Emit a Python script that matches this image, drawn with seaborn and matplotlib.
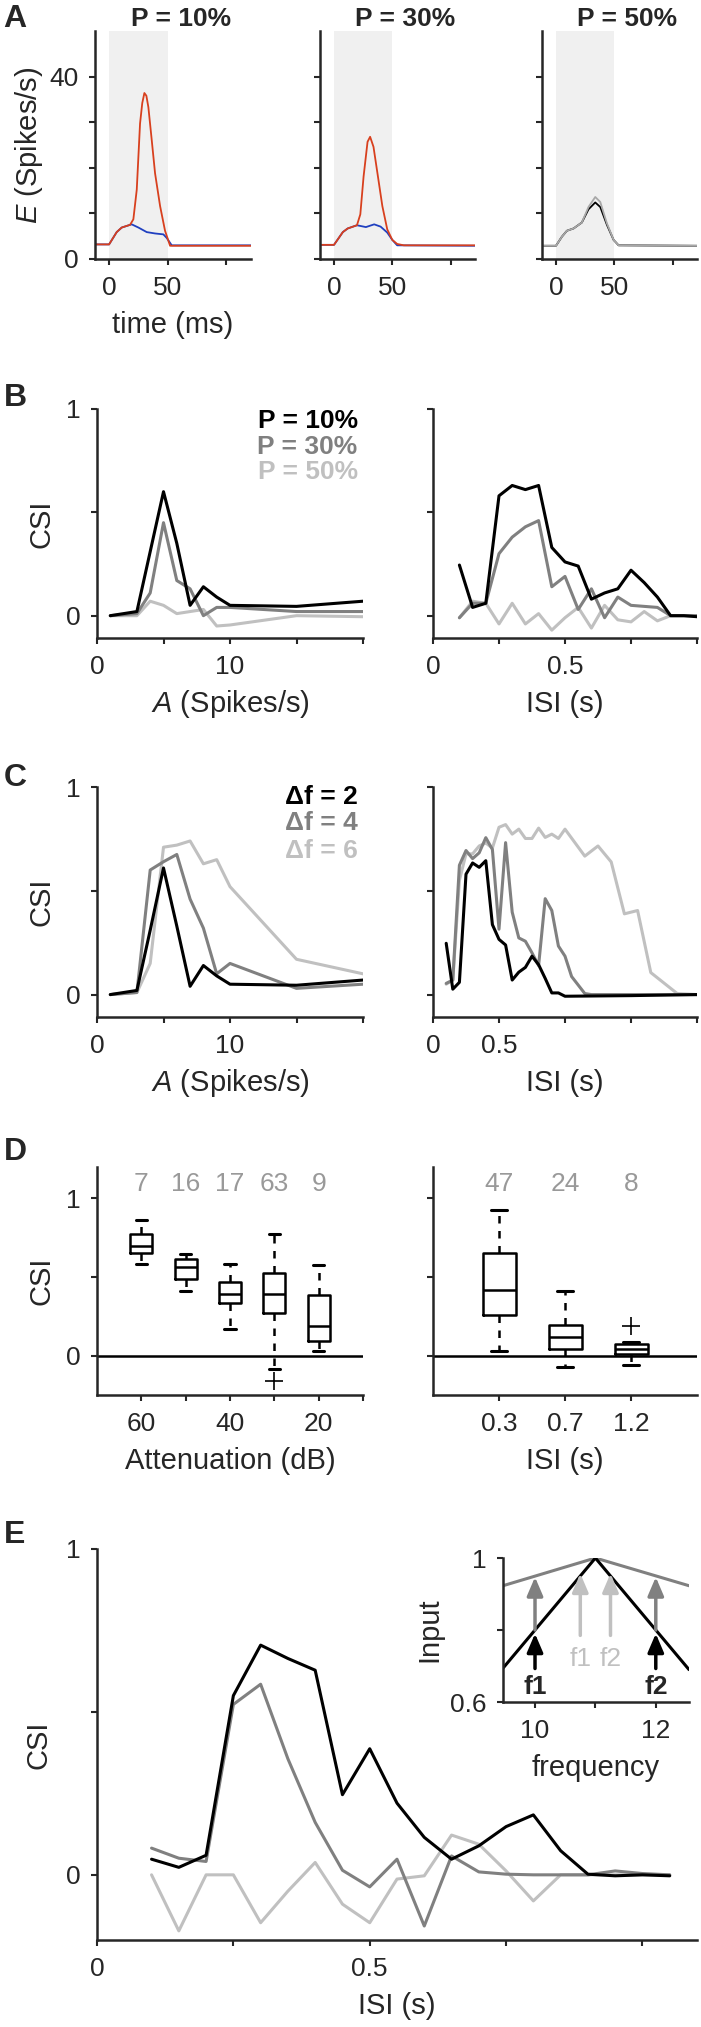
import matplotlib
matplotlib.use("Agg")
import matplotlib.pyplot as plt
import seaborn as sns

# ---------------- data ----------------
# A: firing rate traces (time in ms, rate in spikes/s)
a_t_red10 = [-12, 0, 6.5, 10.8, 17.9, 20.7, 23.6, 26.4, 28.3, 30.1, 31.8, 33.5, 36.4, 39.2, 43.5, 47.7, 52, 121]
a_red10 = [3.2, 3.2, 5.9, 6.9, 7.5, 8.7, 15.2, 29.7, 34.2, 36.4, 35.8, 33.3, 26.0, 18.8, 11.6, 6.2, 2.9, 2.9]
a_t_blue10 = [-12, 0, 6.5, 10.8, 19.3, 25, 32.1, 39.2, 46.3, 49.2, 53.4, 121]
a_blue10 = [3.2, 3.2, 5.9, 6.9, 7.6, 6.9, 5.9, 5.6, 5.4, 4.6, 3.0, 3.0]

a_t_red30 = [-12, 0, 7.6, 11.8, 19.7, 22.6, 25.4, 28.8, 31, 33.9, 37.3, 41.5, 45.7, 50, 54.2, 59.9, 121]
a_red30 = [3.1, 3.1, 5.9, 6.7, 7.4, 9.8, 18.1, 25.7, 26.8, 24.6, 18.8, 11.6, 6.5, 4.2, 3.3, 3.0, 3.0]
a_t_blue30 = [-12, 0, 7.6, 11.8, 19.7, 27.4, 34.5, 40, 45.7, 50, 54.2, 121]
a_blue30 = [3.1, 3.1, 5.9, 6.7, 7.4, 7.0, 7.6, 7.1, 5.8, 4.2, 3.0, 2.9]

a_t_50 = [-12, 0, 5.1, 9.4, 15.1, 22.2, 27.9, 33.7, 38, 43.7, 49.4, 53.7, 121]
a_gray50 = [2.9, 2.9, 4.9, 6.2, 6.7, 8.0, 11.4, 13.6, 12.5, 7.8, 4.2, 3.0, 2.9]
a_black50 = [2.9, 2.9, 4.9, 6.2, 6.7, 8.0, 10.9, 12.4, 11.4, 7.5, 4.2, 3.0, 2.9]

# B/C: CSI vs amplitude
amp = [1, 3, 4, 5, 6, 7, 8, 9, 10, 15, 20]
b_amp_p10 = [0, 0.02, 0.31, 0.60, 0.35, 0.05, 0.14, 0.09, 0.05, 0.045, 0.07]
b_amp_p30 = [0, 0.01, 0.11, 0.45, 0.17, 0.13, 0.0, 0.04, 0.04, 0.02, 0.02]
b_amp_p50 = [0, 0, 0.07, 0.05, 0.01, 0.02, 0.03, -0.05, -0.045, 0, -0.005]

# B: CSI vs ISI
isi_b = [0.1, 0.15, 0.2, 0.25, 0.3, 0.35, 0.4, 0.45, 0.5, 0.55, 0.6, 0.65, 0.7, 0.75, 0.8, 0.85, 0.9, 0.95, 1.0]
b_isi_p10 = [0.245, 0.04, 0.06, 0.58, 0.63, 0.61, 0.63, 0.33, 0.26, 0.24, 0.08, 0.11, 0.13, 0.22, 0.16, 0.09, 0.0, 0.0, -0.005]
b_isi_p30 = [-0.01, 0.06, 0.06, 0.30, 0.38, 0.43, 0.46, 0.14, 0.19, 0.03, 0.13, -0.01, 0.09, 0.05, 0.045, 0.04, 0.0, 0.0, 0.0]
b_isi_p50 = [-0.01, 0.07, 0.06, -0.04, 0.06, -0.04, 0.01, -0.07, -0.01, 0.04, -0.06, 0.05, -0.02, -0.03, 0.02, -0.025, 0.0, 0.0, 0.0]

c_amp_df2 = [0, 0.02, 0.31, 0.61, 0.33, 0.04, 0.14, 0.09, 0.05, 0.045, 0.07]
c_amp_df4 = [0, 0.01, 0.60, 0.64, 0.675, 0.46, 0.32, 0.10, 0.15, 0.03, 0.05]
c_amp_df6 = [0, 0.01, 0.15, 0.71, 0.72, 0.74, 0.63, 0.65, 0.52, 0.17, 0.10]

# C: CSI vs ISI
isi_c2 = [0.1, 0.15, 0.2, 0.25, 0.3, 0.35, 0.4, 0.45, 0.5, 0.55, 0.6, 0.65, 0.7, 0.75, 0.8, 0.85, 0.9, 0.95, 1.0, 1.5, 2.0]
c_isi_df2 = [0.247, 0.026, 0.059, 0.58, 0.634, 0.613, 0.645, 0.337, 0.266, 0.239, 0.07, 0.108, 0.131, 0.185, 0.144, 0.078, 0.008, 0.008, -0.008, -0.005, 0.0]
isi_c4 = [0.1, 0.15, 0.2, 0.25, 0.3, 0.35, 0.4, 0.45, 0.5, 0.55, 0.6, 0.65, 0.7, 0.75, 0.8, 0.85, 0.9, 0.95, 1.0, 1.05, 1.1, 1.15, 1.2, 2.0]
c_isi_df4 = [0.054, 0.07, 0.623, 0.694, 0.655, 0.683, 0.756, 0.699, 0.315, 0.732, 0.397, 0.273, 0.257, 0.201, 0.14, 0.462, 0.405, 0.234, 0.185, 0.087, 0.046, 0.005, 0.0, 0.0]
isi_c6 = [0.1, 0.15, 0.2, 0.25, 0.3, 0.35, 0.4, 0.45, 0.5, 0.55, 0.6, 0.65, 0.7, 0.75, 0.8, 0.85, 0.9, 0.95, 1.0, 1.15, 1.25, 1.35, 1.45, 1.55, 1.65, 1.85, 2.0]
c_isi_df6 = [0.05, 0.07, 0.55, 0.678, 0.678, 0.716, 0.73, 0.706, 0.806, 0.819, 0.773, 0.797, 0.752, 0.752, 0.802, 0.757, 0.773, 0.752, 0.797, 0.667, 0.716, 0.639, 0.389, 0.405, 0.106, 0.005, 0.0]

# D: box summaries (whislo, q1, med, q3, whishi, fliers)
d_att_labels = ["60", "", "40", "", "20"]
d_att_n = [7, 16, 17, 63, 9]
d_att_stats = [
    (0.585, 0.65, 0.70, 0.776, 0.863, []),
    (0.41, 0.49, 0.567, 0.612, 0.645, []),
    (0.17, 0.333, 0.39, 0.468, 0.585, []),
    (-0.087, 0.27, 0.395, 0.525, 0.776, [-0.16]),
    (0.027, 0.093, 0.19, 0.384, 0.574, []),
]
d_isi_labels = ["0.3", "0.7", "1.2"]
d_isi_n = [47, 24, 8]
d_isi_stats = [
    (0.027, 0.26, 0.42, 0.65, 0.926, []),
    (-0.072, 0.04, 0.118, 0.198, 0.41, []),
    (-0.06, 0.008, 0.04, 0.076, 0.089, [0.19]),
]

# E: CSI vs ISI
isi_e = [0.1, 0.15, 0.2, 0.25, 0.3, 0.35, 0.4, 0.45, 0.5, 0.55, 0.6, 0.65, 0.7, 0.75, 0.8, 0.85, 0.9, 0.95, 1.0, 1.05]
e_black = [0.048, 0.023, 0.06, 0.55, 0.705, 0.664, 0.628, 0.246, 0.387, 0.22, 0.115, 0.048, 0.089, 0.148, 0.184, 0.074, 0.002, -0.003, 0.0, -0.003]
e_gray = [0.082, 0.051, 0.041, 0.523, 0.585, 0.356, 0.161, 0.014, -0.037, 0.048, -0.157, 0.058, 0.009, 0.002, 0.0, 0.0, 0.0, 0.012, 0.004, 0.0]
e_light = [0.0, -0.172, 0.0, 0.0, -0.147, -0.05, 0.038, -0.09, -0.147, -0.013, -0.003, 0.122, 0.094, 0.012, -0.08, 0.0, 0.0, 0.0, 0.0, 0.0]

# E inset: input tuning
inset_f = [9.47, 11, 12.55]
inset_gray = [0.923, 1.0, 0.923]
inset_black = [0.694, 1.0, 0.69]
arrow_gray_f = [10, 12]
arrow_light_f = [10.75, 11.25]

# ---------------- style ----------------
BLACK, GRAY, LIGHT = "#000000", "#808080", "#c0c0c0"
RED, BLUE = "#d8401e", "#2040c0"
DARK = "#262626"
FS = 19        # tick labels
FL = 21        # axis labels
FB = 19        # bold titles / legends

sns.set_style("ticks")
plt.rcParams["font.family"] = ["Liberation Sans", "DejaVu Sans"]
plt.rcParams["mathtext.fontset"] = "custom"
plt.rcParams["mathtext.rm"] = "Liberation Sans"
plt.rcParams["mathtext.it"] = "Liberation Sans:italic"
plt.rcParams["axes.labelcolor"] = DARK

W, H = 701, 2027
fig = plt.figure(figsize=(W / 100, H / 100), dpi=100)


def make_ax(x0, y0, x1, y1):
    ax = fig.add_axes([x0 / W, 1 - y1 / H, (x1 - x0) / W, (y1 - y0) / H])
    ax.patch.set_alpha(0)
    for s in ["top", "right"]:
        ax.spines[s].set_visible(False)
    for s in ["left", "bottom"]:
        ax.spines[s].set_linewidth(1.8)
        ax.spines[s].set_color(DARK)
    ax.tick_params(direction="out", length=4, width=1.5, labelsize=FS,
                   colors=DARK, pad=8)
    ax._px_h = y1 - y0
    ax._px_w = x1 - x0
    return ax


def labels(ax, xlabel=None, ylabel=None, ylab_x=None):
    # centre of x label sits ~66 px under the spine, y label at given px
    if xlabel:
        ax.set_xlabel(xlabel, fontsize=FL, va="center")
        ax.xaxis.set_label_coords(0.5, -66 / ax._px_h)
    if ylabel:
        ax.set_ylabel(ylabel, fontsize=FL, va="center")
        ax.yaxis.set_label_coords(ylab_x / ax._px_w, 0.5)


def line(ax, x, y, c, lw=2.2):
    sns.lineplot(x=x, y=y, color=c, lw=lw, ax=ax, estimator=None, sort=False)


def letter(y, s):
    fig.text(15 / W, 1 - y / H, s, fontsize=23, fontweight="bold",
             ha="center", va="center")


# ---------------- A ----------------
a_axes = [make_ax(95, 31, 251, 259), make_ax(320, 31, 475, 259), make_ax(542, 31, 697, 259)]
for ax, title in zip(a_axes, ["P = 10%", "P = 30%", "P = 50%"]):
    ax.axvspan(0, 50, color="#f0f0f0", lw=0, zorder=0)
    ax.set_xlim(-12, 121)
    ax.set_ylim(0, 50)
    ax.set_xticks([0, 50, 100], ["0", "50", ""])
    ax.set_yticks([0, 10, 20, 30, 40])
    ax.set_yticklabels([])
    ax.set_title(title, fontsize=FB, fontweight="bold", x=0.55, pad=3.5)
a_axes[0].set_yticklabels(["0", "", "", "", "40"])
line(a_axes[0], a_t_blue10, a_blue10, BLUE, 1.3)
line(a_axes[0], a_t_red10, a_red10, RED, 1.3)
line(a_axes[1], a_t_blue30, a_blue30, BLUE, 1.3)
line(a_axes[1], a_t_red30, a_red30, RED, 1.3)
line(a_axes[2], a_t_50, a_black50, BLACK, 1.3)
line(a_axes[2], a_t_50, a_gray50, "#a8a8a8", 1.3)
labels(a_axes[0], "time (ms)", "$\\it{E}$ (Spikes/s)", 29 - 95)
letter(19, "A")


# ---------------- B / C ----------------
def csi_pair(y0, y1):
    left = make_ax(97, y0, 363, y1)
    right = make_ax(433, y0, 697, y1)
    for ax in (left, right):
        ax.set_ylim(-0.108, 1)
        ax.set_yticks([0, 0.5, 1])
        ax.set_yticklabels([])
    left.set_yticklabels(["0", "", "1"])
    left.set_xlim(0, 20)
    left.set_xticks([0, 5, 10, 15, 20], ["0", "", "10", "", ""])
    labels(left, "$\\it{A}$ (Spikes/s)", "CSI", 42 - 97)
    labels(right, "ISI (s)")
    return left, right


b1, b2 = csi_pair(409, 638)
line(b1, amp, b_amp_p50, LIGHT)
line(b1, amp, b_amp_p30, GRAY)
line(b1, amp, b_amp_p10, BLACK)
line(b2, isi_b, b_isi_p50, LIGHT)
line(b2, isi_b, b_isi_p30, GRAY)
line(b2, isi_b, b_isi_p10, BLACK)
b2.set_xlim(0, 1)
b2.set_xticks([0, 0.25, 0.5, 0.75, 1], ["0", "", "0.5", "", ""])
for txt, c, yy in [("P = 10%", BLACK, 0.948), ("P = 30%", GRAY, 0.834), ("P = 50%", LIGHT, 0.725)]:
    b1.text(0.98, yy, txt, color=c, transform=b1.transAxes, ha="right",
            va="center", fontsize=FB, fontweight="bold")
letter(398, "B")

c1, c2 = csi_pair(787, 1017)
line(c1, amp, c_amp_df6, LIGHT)
line(c1, amp, c_amp_df4, GRAY)
line(c1, amp, c_amp_df2, BLACK)
line(c2, isi_c6, c_isi_df6, LIGHT)
line(c2, isi_c4, c_isi_df4, GRAY)
line(c2, isi_c2, c_isi_df2, BLACK)
c2.set_xlim(0, 2)
c2.set_xticks([0, 0.5, 1, 1.5, 2], ["0", "0.5", "", "", ""])
for txt, c, yy in [("\u0394f = 2", BLACK, 0.957), ("\u0394f = 4", GRAY, 0.843), ("\u0394f = 6", LIGHT, 0.722)]:
    c1.text(0.98, yy, txt, color=c, transform=c1.transAxes, ha="right",
            va="center", fontsize=FB, fontweight="bold")
letter(778, "C")


# ---------------- D ----------------
def boxes(ax, stats, counts, ticklabels):
    pos = list(range(1, len(stats) + 1))
    bstats = [dict(whislo=s[0], q1=s[1], med=s[2], q3=s[3], whishi=s[4], fliers=s[5])
              for s in stats]
    ax.axhline(0, color="k", lw=1.8, zorder=1)
    ax.bxp(bstats, positions=pos, widths=0.5, capwidths=0.25,
           boxprops=dict(color="k", lw=1.8),
           whiskerprops=dict(color="k", lw=1.8, linestyle=(0, (3, 3))),
           capprops=dict(color="k", lw=2.2),
           medianprops=dict(color="k", lw=1.8),
           flierprops=dict(marker="+", markeredgecolor="k", markersize=13,
                           markeredgewidth=1.2))
    for p, n in zip(pos, counts):
        ax.text(p, 1.09, str(n), color="#999999", ha="center", va="center", fontsize=FS)
    ax.set_xlim(0, len(stats) + 1)
    ax.set_xticks(pos, ticklabels)
    ax.set_ylim(-0.25, 1.2)
    ax.set_yticks([0, 0.5, 1])
    ax.set_yticklabels([])


d1 = make_ax(97, 1167, 363, 1395)
d2 = make_ax(433, 1167, 697, 1395)
boxes(d1, d_att_stats, d_att_n, d_att_labels)
boxes(d2, d_isi_stats, d_isi_n, d_isi_labels)
d1.set_xticks([1, 2, 3, 4, 5, 6], d_att_labels + [""])
d1.set_yticklabels(["0", "", "1"])
labels(d1, "Attenuation (dB)", "CSI", 42 - 97)
labels(d2, "ISI (s)")
letter(1152, "D")

# ---------------- E ----------------
e = make_ax(97, 1549, 697, 1940)
line(e, isi_e, e_light, LIGHT)
line(e, isi_e, e_gray, GRAY)
line(e, isi_e, e_black, BLACK)
e.set_xlim(0, 1.1)
e.set_ylim(-0.2, 1)
e.set_xticks([0, 0.25, 0.5, 0.75, 1.0], ["0", "", "0.5", "", ""])
e.set_yticks([0, 0.5, 1], ["0", "", "1"])
labels(e, "ISI (s)", "CSI", 38 - 97)
letter(1535, "E")

ins = make_ax(503, 1558, 689, 1702)
ins.set_xlim(9.47, 12.55)
ins.set_ylim(0.6, 1)
ins.set_xticks([10, 11, 12], ["10", "", "12"])
ins.set_yticks([0.6, 0.8, 1.0], ["0.6", "", "1"])
labels(ins, "frequency", "Input", 429 - 503)


def arrow(ax, f, tail, tip, c):
    ax.annotate("", xy=(f, tip), xytext=(f, tail),
                arrowprops=dict(arrowstyle="-|>,head_length=0.7,head_width=0.3",
                                color=c, lw=2.5, shrinkA=0, shrinkB=0,
                                mutation_scale=16))


for f in arrow_gray_f:
    arrow(ins, f, 0.80, 0.947, GRAY)
    arrow(ins, f, 0.693, 0.79, BLACK)
for f in arrow_light_f:
    arrow(ins, f, 0.785, 0.957, LIGHT)
line(ins, inset_f, inset_gray, GRAY, 2.2)
line(ins, inset_f, inset_black, BLACK, 2.2)
for f, s in zip(arrow_gray_f, ["f1", "f2"]):
    ins.text(f, 0.642, s, ha="center", va="center", fontsize=FB, fontweight="bold")
for f, s in zip(arrow_light_f, ["f1", "f2"]):
    ins.text(f, 0.72, s, ha="center", va="center", fontsize=FS, color=LIGHT)

fig.savefig("out.png", dpi=100)
